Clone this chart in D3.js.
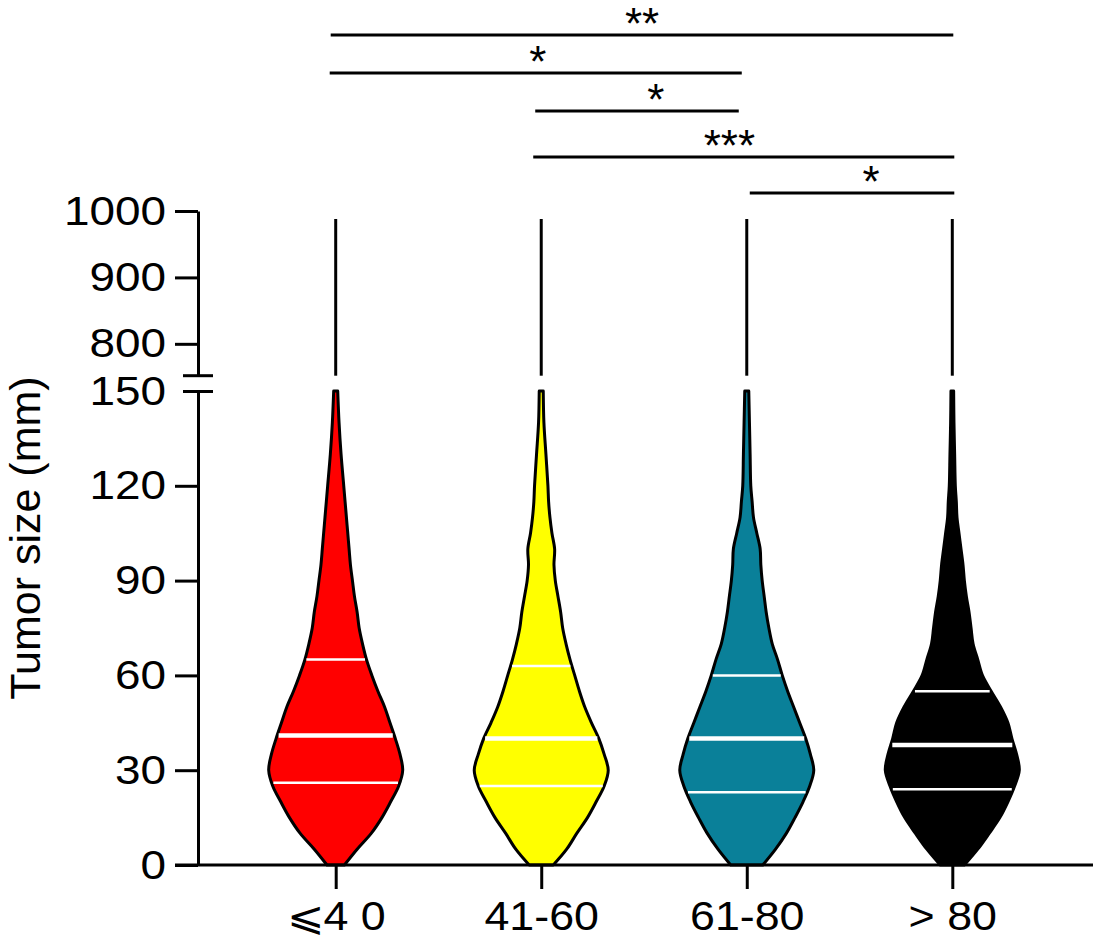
<!DOCTYPE html>
<html>
<head>
<meta charset="utf-8">
<script src="https://cdn.jsdelivr.net/npm/d3@7"></script>
<style>
  html, body { margin: 0; padding: 0; background: #fff; }
  svg { display: block; font-family: Arial, "Liberation Sans", "DejaVu Sans", sans-serif; }
</style>
</head>
<body>
<div id="chart"></div>
<script>
// Age groups and violin summaries (tumor size, mm)
const groups = ["⩽4 0", "41-60", "61-80", "> 80"];
const q1 = [26, 25, 23, 24];
const medians = [41, 40, 40, 38];
const q3 = [65, 63, 60, 55];
const maxima = [988, 988, 988, 988];

// Relative density, at these sizes
const levels = [0, 5, 10, 15, 20, 25, 30, 35, 40, 45, 50, 55, 60, 65, 70, 75,
                80, 85, 90, 95, 100, 105, 110, 115, 120, 130, 140, 150];
const densityLE40 = [0.13, 0.32, 0.53, 0.69, 0.82, 0.94, 1.00, 0.96, 0.89, 0.81, 0.73, 0.63, 0.54, 0.46,
                     0.40, 0.35, 0.32, 0.28, 0.25, 0.22, 0.20, 0.18, 0.16, 0.14, 0.12, 0.08, 0.05, 0.03];
const density41to60 = [0.18, 0.38, 0.53, 0.69, 0.82, 0.94, 1.00, 0.94, 0.86, 0.75, 0.65, 0.57, 0.50, 0.43,
                       0.37, 0.32, 0.29, 0.25, 0.21, 0.19, 0.20, 0.16, 0.13, 0.11, 0.10, 0.07, 0.04, 0.03];
const density61to80 = [0.24, 0.43, 0.59, 0.72, 0.84, 0.94, 1.00, 0.95, 0.88, 0.79, 0.70, 0.61, 0.53, 0.46,
                       0.38, 0.33, 0.29, 0.26, 0.23, 0.21, 0.20, 0.15, 0.10, 0.08, 0.06, 0.05, 0.04, 0.03];
const densityGT80 = [0.18, 0.38, 0.55, 0.71, 0.83, 0.93, 1.00, 0.96, 0.89, 0.83, 0.72, 0.58, 0.45, 0.38,
                     0.31, 0.28, 0.25, 0.21, 0.18, 0.16, 0.13, 0.10, 0.07, 0.06, 0.045, 0.035, 0.025, 0.02];
const densities = [densityLE40, density41to60, density61to80, densityGT80];

// Broken y axis ticks
const lowTicks = [0, 30, 60, 90, 120, 150];
const highTicks = [800, 900, 1000];

// Pairwise comparisons (group index from, to, label)
const compFrom = [0, 0, 1, 1, 2];
const compTo = [3, 2, 2, 3, 3];
const compLabel = ["**", "*", "*", "***", "*"];

(function () {
  const W = 1099, H = 942;
  const FILL = ["#ff0000", "#ffff00", "#0a8099", "#000000"];
  const AXIS_X = 198;
  const SX = 1.12; // tick labels in the source are a little wider than Arial

  const svg = d3.select("#chart").append("svg")
    .attr("width", W).attr("height", H).attr("viewBox", `0 0 ${W} ${H}`);

  const x = d3.scalePoint().domain(groups).range([335.7, 952.3]);
  const yLow = d3.scaleLinear().domain([0, 150]).range([865, 391]);
  const yHigh = d3.scaleLinear().domain([752, 1000]).range([375.7, 211]);
  const wScale = d3.scaleLinear().domain([0, 1]).range([0, 67]);

  // Upper whiskers (in the 752-1000 segment)
  svg.append("g").selectAll("line").data(groups).join("line")
    .attr("x1", d => x(d)).attr("x2", d => x(d))
    .attr("y1", (d, i) => yHigh(maxima[i])).attr("y2", yHigh(yHigh.domain()[0]))
    .attr("stroke", "#000").attr("stroke-width", 3);

  // Violins
  groups.forEach((g, i) => {
    const cx = x(g);
    const pts = levels.map((v, k) => ({ v, d: densities[i][k] }));
    const area = d3.area()
      .y(p => yLow(p.v))
      .x0(p => cx - wScale(p.d))
      .x1(p => cx + wScale(p.d))
      .curve(d3.curveCatmullRom.alpha(0.5));
    svg.append("path").datum(pts)
      .attr("d", area)
      .attr("fill", FILL[i]).attr("stroke", "#000").attr("stroke-width", 3)
      .attr("stroke-linejoin", "round");

    const interp = d3.scaleLinear().domain(levels).range(densities[i]);
    const qs = [[q1[i], 2.5], [medians[i], 4.5], [q3[i], 2.5]];
    qs.forEach(([q, sw]) => {
      const hw = wScale(interp(q)) - 1.5;
      svg.append("line")
        .attr("x1", cx - hw).attr("x2", cx + hw)
        .attr("y1", yLow(q)).attr("y2", yLow(q))
        .attr("stroke", "#fff").attr("stroke-width", sw);
    });
  });

  // Y axes (broken)
  const gLow = svg.append("g").attr("transform", `translate(${AXIS_X},0)`)
    .call(d3.axisLeft(yLow).tickValues(lowTicks).tickFormat(d3.format("d"))
      .tickSize(23).tickSizeOuter(0).tickPadding(9));
  const gHigh = svg.append("g").attr("transform", `translate(${AXIS_X},0)`)
    .call(d3.axisLeft(yHigh).tickValues(highTicks).tickFormat(d3.format("d"))
      .tickSize(23).tickSizeOuter(0).tickPadding(9));
  [gLow, gHigh].forEach(g => {
    g.select(".domain").attr("stroke-width", 3);
    g.selectAll(".tick line").attr("stroke-width", 3);
    g.selectAll(".tick text").attr("font-size", 41).attr("fill", "#000")
      .attr("x", -32 / SX).attr("transform", `scale(${SX},1)`);
  });
  // 150 tick becomes the break cap
  gLow.selectAll(".tick").filter(d => d === 150).select("line")
    .attr("x1", -15).attr("x2", 15);
  gHigh.append("line")
    .attr("x1", -15).attr("x2", 15)
    .attr("y1", yHigh(yHigh.domain()[0])).attr("y2", yHigh(yHigh.domain()[0]))
    .attr("stroke", "#000").attr("stroke-width", 3);

  // X axis
  svg.append("line")
    .attr("x1", 175).attr("x2", 1093).attr("y1", yLow(0)).attr("y2", yLow(0))
    .attr("stroke", "#000").attr("stroke-width", 3);
  const gx = svg.append("g").attr("transform", `translate(0,${yLow(0)})`)
    .call(d3.axisBottom(x).tickSize(24).tickPadding(13));
  gx.select(".domain").remove();
  gx.selectAll(".tick line").attr("stroke-width", 3);
  gx.selectAll(".tick text").attr("font-size", 40).attr("fill", "#000")
    .attr("transform", `scale(${SX},1)`);

  // Y axis title
  svg.append("text")
    .attr("transform", "translate(40,538) rotate(-90)")
    .attr("text-anchor", "middle").attr("font-size", 43)
    .text("Tumor size (mm)");

  // Significance bars
  const barY = [35, 73, 111, 157, 193];
  const barDx = [[-5, 1], [-6, -5], [-6, -8], [-8, 2], [3, 2]];
  const labelAt = [0.5, 0.505, 0.593, 0.466, 0.593];
  compLabel.forEach((lab, k) => {
    const x0 = x(groups[compFrom[k]]) + barDx[k][0];
    const x1 = x(groups[compTo[k]]) + barDx[k][1];
    svg.append("line")
      .attr("x1", x0).attr("x2", x1).attr("y1", barY[k]).attr("y2", barY[k])
      .attr("stroke", "#000").attr("stroke-width", 3);
    svg.append("text")
      .attr("x", x0 + (x1 - x0) * labelAt[k]).attr("y", barY[k] + 4)
      .attr("text-anchor", "middle").attr("font-size", 44)
      .text(lab);
  });
})();
</script>
</body>
</html>
